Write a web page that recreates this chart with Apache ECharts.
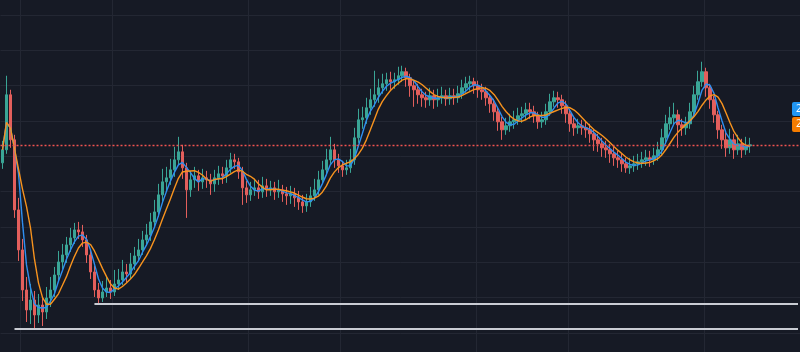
<!DOCTYPE html>
<html>
<head>
<meta charset="utf-8">
<script src="https://cdn.jsdelivr.net/npm/echarts@6/dist/echarts.min.js"></script>
<style>
html,body{margin:0;padding:0;background:#161a25;}
#chart{width:800px;height:352px;}
</style>
</head>
<body>
<div id="chart"></div>
<script>
// ---- data ----
const firstOpen = 17.0;
const closes = [
18.3,23.8,19.3,12.3,8.3,4.3,2.3,3.3,1.8,2.8,
2.1,3.5,4.3,5.8,7.1,7.8,8.8,9.5,10.3,10.1,
9.3,7.8,6.1,4.3,3.5,4.1,4.5,4.1,4.9,5.3,
6.1,5.9,6.9,7.7,8.3,9.3,9.8,11.1,12.1,13.8,
15.1,15.5,16.3,17.3,18.1,16.5,14.3,15.3,15.7,15.1,
15.5,15.3,14.9,15.5,15.9,15.7,16.5,17.3,17.1,16.1,
14.5,13.8,14.3,14.5,14.1,14.7,14.3,14.5,14.1,14.3,
13.9,13.7,13.9,13.5,13.1,12.7,13.1,13.7,14.3,15.3,
16.3,17.3,18.3,17.3,16.7,16.3,16.5,17.3,19.5,21.3,
21.5,22.5,23.3,23.8,24.5,24.9,25.3,25.1,25.3,25.7,
26.1,25.5,24.7,24.3,23.8,23.5,23.3,23.7,23.3,23.5,
23.7,23.4,23.7,23.5,23.9,24.5,24.9,25.1,24.7,24.3,
24.1,23.5,22.9,22.1,21.1,20.3,20.7,21.1,21.3,21.7,
21.9,22.3,22.1,21.7,21.1,21.3,22.1,23.1,23.5,23.3,
22.7,21.9,20.9,20.5,20.7,20.5,20.3,19.9,19.3,18.9,
18.5,18.3,17.9,17.5,17.3,16.9,16.5,16.7,16.9,17.1,
17.3,17.5,17.3,17.7,18.3,19.5,20.9,21.5,21.8,20.8,
20.5,20.9,22.1,23.8,25.1,26.1,24.5,23.3,21.8,20.3,
19.3,18.5,19.3,18.3,18.9,18.3,18.7,18.8
];
const highs = [
19.2,25.7,24.3,19.8,13.5,9.4,5.6,4.9,4.2,3.9,
3.6,4.6,5.6,6.6,8.2,8.9,9.6,10.5,11.0,11.1,
10.8,9.8,8.3,6.7,5.0,5.2,5.6,5.3,6.3,6.4,
7.3,6.9,8.0,8.6,9.4,10.2,10.9,12.0,13.3,14.9,
16.4,16.6,17.4,18.6,19.6,18.8,17.0,16.2,16.6,16.3,
16.4,16.2,15.9,16.3,16.7,16.6,17.3,18.0,17.9,17.5,
16.6,15.2,15.1,15.4,15.3,15.6,15.4,15.2,15.1,15.3,
14.8,14.6,14.7,14.5,14.2,13.8,13.9,14.6,15.4,16.2,
17.2,18.4,19.6,18.9,17.9,17.2,17.3,18.4,20.5,22.4,
22.6,23.5,24.4,26.2,25.4,25.9,26.0,26.1,26.0,26.6,
26.7,26.5,25.9,25.2,24.9,24.4,24.1,24.5,24.3,24.4,
24.6,24.3,24.5,24.4,24.7,25.3,25.6,25.7,25.5,25.2,
24.9,24.6,23.8,23.4,22.5,21.6,21.5,21.9,22.2,22.5,
22.6,23.0,23.0,22.7,22.1,22.1,22.9,23.9,24.2,24.1,
23.8,23.2,22.3,21.5,21.4,21.3,21.1,20.9,20.3,19.9,
19.5,19.2,18.9,18.6,18.2,17.9,17.5,17.5,17.7,17.9,
18.1,18.3,18.2,18.5,19.1,20.4,21.8,22.6,23.0,22.3,
21.4,21.6,23.0,24.7,26.2,27.1,26.5,24.9,23.7,22.2,
20.8,20.1,20.4,19.9,19.8,19.4,19.6,19.5
];
const lows = [
16.4,17.9,18.5,11.5,7.2,3.2,1.1,0.9,0.5,1.0,
0.7,1.4,2.6,3.6,5.2,6.4,7.0,8.1,8.9,9.4,
8.6,7.0,5.4,3.6,2.9,3.1,3.6,3.4,3.7,4.3,
4.8,5.0,5.4,6.3,7.2,7.8,8.7,9.2,10.5,11.6,
13.1,14.2,14.8,15.6,16.8,15.4,11.5,13.6,14.5,14.2,
14.4,14.5,13.8,14.1,14.8,14.9,15.0,16.0,16.4,15.4,
12.8,13.0,13.2,13.7,13.4,13.5,13.6,13.7,13.3,13.5,
13.1,12.8,12.9,12.6,12.3,12.0,12.1,12.6,13.2,13.8,
14.9,15.8,16.9,16.5,16.0,15.6,15.8,16.0,16.8,19.0,
20.4,20.9,21.8,22.6,23.0,23.9,24.2,24.3,24.4,24.8,
25.1,24.6,23.6,22.6,22.9,22.6,22.5,22.7,22.4,22.6,
22.9,22.7,22.8,22.8,23.0,23.4,24.0,24.2,23.9,23.5,
23.3,22.7,22.0,21.2,20.2,19.3,19.8,20.1,20.4,20.8,
21.0,21.3,21.4,21.0,20.4,20.5,20.8,21.7,22.6,22.5,
21.9,21.0,20.1,19.7,19.9,19.8,19.5,19.0,18.2,18.1,
17.6,17.5,17.0,16.7,16.5,16.1,16.0,15.9,16.1,16.3,
16.5,16.7,16.6,16.8,17.2,17.8,19.0,20.3,20.8,18.5,
19.7,19.8,20.4,21.6,23.3,24.6,23.6,22.4,21.0,19.4,
18.4,17.6,17.9,17.4,17.8,17.5,17.8,18.0
];
const totalSlots = 200;                 // bars + empty space to the right
const dottedLevel = 18.73;              // red dotted price line
const supportLevels = [2.9, 0.4];       // white horizontal rays
const supportStarts = [23, 3];          // bar index where each ray starts
const timeGridIdx = [5, 28, 62, 85, 119, 142, 176];
const tagValues = ['22.4', '20.9'];
const fastPeriod = 4, slowPeriod = 7;

// ---- build ----
const cats = Array.from({length: totalSlots}, (_, i) => String(i));
const opens = [firstOpen].concat(closes.slice(0, -1));
const candles = closes.map((c, i) => [opens[i], c, lows[i], highs[i]]);
function sma(arr, n) {
  return arr.map((v, i) => {
    const s = arr.slice(Math.max(0, i - n + 1), i + 1);
    return +(s.reduce((a, b) => a + b, 0) / s.length).toFixed(3);
  });
}
const fast = sma(closes, fastPeriod);
const slow = sma(closes, slowPeriod);
const lastIdx = totalSlots - 1;
const gridColor = '#232733';
const upColor = '#3aa596', downColor = '#e35f5c';

const chart = echarts.init(document.getElementById('chart'), null, {renderer: 'canvas'});
chart.setOption({
  backgroundColor: '#161a25',
  animation: false,
  grid: [
    {left: 0.5, right: -0.5, top: 15, bottom: 19},
    {left: 0, right: 0, top: 0, bottom: 0}
  ],
  xAxis: [
    {type: 'category', gridIndex: 0, data: cats, boundaryGap: true,
     axisLine: {show: false}, axisTick: {show: false}, axisLabel: {show: false}, splitLine: {show: false}},
    {type: 'category', gridIndex: 1, data: cats, boundaryGap: true,
     axisLine: {show: false}, axisTick: {show: false}, axisLabel: {show: false},
     splitLine: {show: true, interval: (i) => timeGridIdx.includes(i), lineStyle: {color: gridColor, width: 1}}}
  ],
  yAxis: [
    {type: 'value', gridIndex: 0, min: 0, max: 31.77, interval: 3.53,
     axisLine: {show: false}, axisTick: {show: false}, axisLabel: {show: false},
     splitLine: {show: true, lineStyle: {color: gridColor, width: 1}}},
    {type: 'value', gridIndex: 1, show: false, splitLine: {show: false}}
  ],
  series: [
    {
      type: 'candlestick', xAxisIndex: 0, yAxisIndex: 0, data: candles, barWidth: 3,
      itemStyle: {color: upColor, color0: downColor, borderColor: upColor, borderColor0: downColor, borderWidth: 1},
      emphasis: {disabled: true},
      markLine: {
        silent: true, symbol: ['none', 'none'], label: {show: false}, animation: false,
        data: [
          {yAxis: dottedLevel, lineStyle: {type: [2, 2], color: '#ef5350', width: 1.3, opacity: 1}},
          [{coord: [supportStarts[0], supportLevels[0]], lineStyle: {type: 'solid', color: '#c9ccd3', width: 2}},
           {coord: [lastIdx, supportLevels[0]]}],
          [{coord: [supportStarts[1], supportLevels[1]], lineStyle: {type: 'solid', color: '#c9ccd3', width: 2}},
           {coord: [lastIdx, supportLevels[1]]}]
        ]
      }
    },
    {type: 'line', xAxisIndex: 0, yAxisIndex: 0, data: fast, showSymbol: false, silent: true,
     lineStyle: {color: '#2f8ff0', width: 1.4}, z: 3},
    {type: 'line', xAxisIndex: 0, yAxisIndex: 0, data: slow, showSymbol: false, silent: true,
     lineStyle: {color: '#f7931e', width: 1.4}, z: 4}
  ],
  graphic: [
    {type: 'rect', left: 792, top: 102, shape: {width: 20, height: 14, r: 2}, style: {fill: '#2196f3'}, z: 10},
    {type: 'text', left: 796, top: 104, style: {text: tagValues[0], fill: '#ffffff', font: '10px "Noto Sans"'}, z: 11},
    {type: 'rect', left: 792, top: 117, shape: {width: 20, height: 15, r: 2}, style: {fill: '#f57c00'}, z: 10},
    {type: 'text', left: 796, top: 119, style: {text: tagValues[1], fill: '#ffffff', font: '10px "Noto Sans"'}, z: 11}
  ]
});
</script>
</body>
</html>
